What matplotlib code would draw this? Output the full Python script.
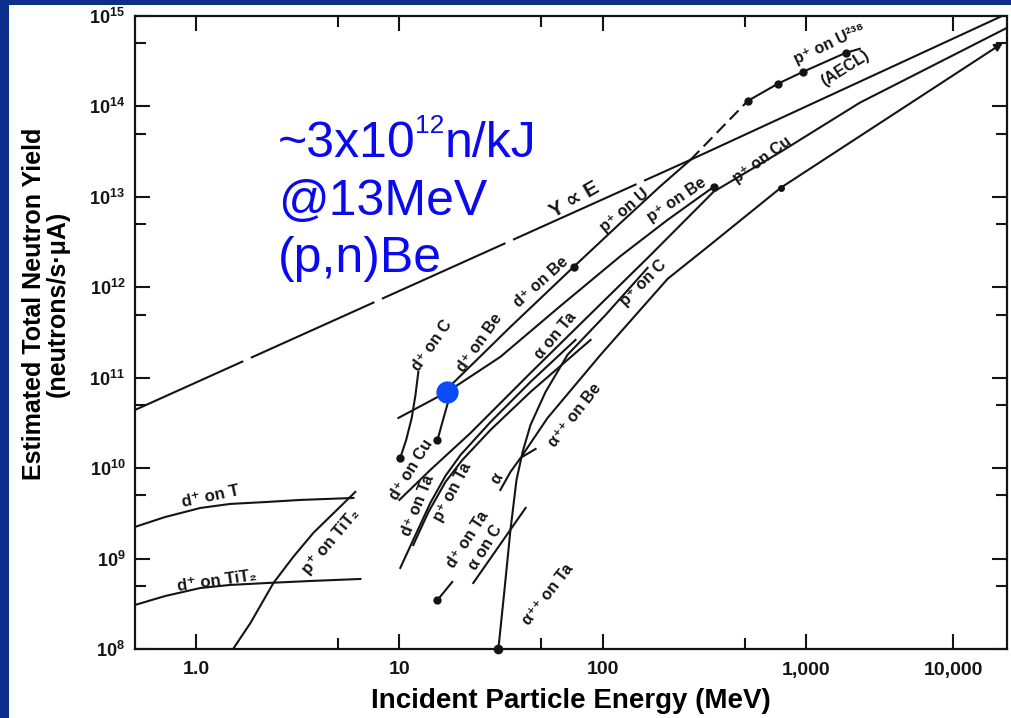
import numpy as np
import matplotlib.pyplot as plt
from matplotlib.patches import Rectangle

plt.rcParams['font.family'] = ['Liberation Sans', 'DejaVu Sans']
plt.rcParams['mathtext.fontset'] = 'custom'
plt.rcParams['mathtext.rm'] = 'Liberation Sans'
plt.rcParams['mathtext.it'] = 'Liberation Sans:italic'
plt.rcParams['mathtext.bf'] = 'Liberation Sans:bold'

# ---- data: energy in MeV, yield in neutrons/s-uA ----
yprop_e = [0.5, 271, 23300]                # Y ~ E reference line
yprop_y = [4.4e10, 2.57e13, 1.06e15]

dbe_e = [18.2, 35.2, 72.0]                 # d+ on Be
dbe_y = [8.54e10, 3.65e11, 1.68e12]

pu_e = [72.0, 122.7, 193, 271]             # p+ on U
pu_y = [1.68e12, 5.16e12, 1.32e13, 2.57e13]
pu_ext_e = [271, 518]                      # dashed link to AECL points
pu_ext_y = [2.57e13, 1.15e14]
aecl_e = [518, 728, 967, 1871, 2330]       # p+ on U238 (AECL)
aecl_y = [1.15e14, 1.78e14, 2.41e14, 3.92e14, 4.34e14]

pbe_e = [9.89, 17.2, 31.4, 62.1, 122.7, 209, 352]        # p+ on Be
pbe_y = [3.59e10, 6.97e10, 1.70e11, 6.23e11, 2.22e12, 5.57e12, 1.29e13]

pcu_e = [10.0, 14.2, 22.4, 44.2, 87.3, 166.6, 352, 753, 2330, 23300]   # p+ on Cu
pcu_y = [4.45e9, 9.55e9, 2.45e10, 1.13e11, 5.08e11, 2.11e12, 1.14e13,
         3.15e13, 1.10e14, 7.40e14]

pc_e = [40.4, 53.6, 97.7, 209, 329, 753, 21880]          # p+ on C
pc_y = [1.40e10, 3.59e10, 1.79e11, 1.24e12, 2.80e12, 1.26e13, 5.05e14]

ata_e = [30.7, 32.9, 35.2, 37.7, 40.4, 44.2, 52.4, 67.2, 103.5, 166.6]  # alpha on Ta
ata_y = [1.0e8, 4.50e8, 2.07e9, 7.40e9, 1.51e10, 3.01e10, 6.97e10,
         1.79e11, 4.95e11, 1.64e12]

abe_e = [31.4, 35.2, 39.5, 46.8]           # alpha++ on Be
abe_y = [5.74e9, 9.08e9, 1.30e10, 1.63e10]

ac_e = [23.1, 41.8]                        # alpha on C
ac_y = [5.37e8, 3.63e9]

dta_low_e = [15.4, 18.2]                   # d+ on Ta (low point)
dta_low_y = [3.48e8, 5.51e8]

dc_e = [10.1, 10.8, 11.5, 12.0, 12.4]      # d+ on C
dc_y = [1.30e10, 2.05e10, 3.59e10, 6.45e10, 1.16e11]

dcu_e = [15.4, 16.5, 17.6]                 # d+ on Cu
dcu_y = [2.05e10, 3.59e10, 5.98e10]

dta_e = [10.1, 12.0, 14.2, 16.85, 20.0, 28.1, 44.2, 73.6]   # d+ on Ta
dta_y = [7.87e8, 1.82e9, 4.12e9, 8.20e9, 1.40e10, 3.24e10, 9.0e10, 2.62e11]

pta_e = [11.7, 13.9, 16.85, 20.4, 28.1, 44.2, 87.3]          # p+ on Ta
pta_y = [1.41e9, 3.27e9, 7.03e9, 1.23e10, 2.65e10, 6.97e10, 2.62e11]

dt_e = [0.50, 0.703, 1.05, 1.47, 2.24, 3.25, 5.94]          # d+ on T
dt_y = [2.24e9, 2.88e9, 3.63e9, 4.02e9, 4.23e9, 4.45e9, 4.68e9]

dtit_e = [0.50, 0.703, 1.05, 1.47, 2.24, 3.64, 6.43]        # d+ on TiT2
dtit_y = [3.07e8, 3.85e8, 4.73e8, 5.11e8, 5.37e8, 5.65e8, 5.95e8]

ptit_e = [1.52, 1.65, 1.85, 2.40, 3.0, 3.77, 6.07]          # p+ on TiT2
ptit_y = [1.0e8, 1.32e8, 1.94e8, 5.37e8, 1.04e9, 1.92e9, 5.46e9]

marked_e = 17.2                            # highlighted (p,n)Be point
marked_y = 6.97e10

x_ticks = [1, 10, 100, 1000, 10000]
x_labels = ['1.0', '10', '100', '1,000', '10,000']
x_minor = [5, 50, 500]
y_exps = list(range(8, 16))

# ---- figure ----
W, H = 1012, 718
ink = '#141414'
blue = '#0a0af0'

fig = plt.figure(figsize=(W / 100, H / 100), dpi=100, facecolor='#0d2e8c')
fig.patches.append(Rectangle((9 / W, 0), 1 - 9 / W, 1 - 5 / H, transform=fig.transFigure,
                             facecolor='white', edgecolor='none', zorder=-1))
ax = fig.add_axes([135 / W, 1 - 649 / H, 872 / W, 633 / H])
ax.set_zorder(1)

# the original axis draws its last decade shorter than the others
squeeze = 147 / 203

def fwd(x):
    lx = np.log10(np.clip(np.asarray(x, float), 1e-12, None))
    return np.where(lx <= 3, lx, 3 + (lx - 3) * squeeze)

def inv(u):
    u = np.asarray(u, float)
    with np.errstate(over='ignore'):
        return np.where(u <= 3, 10.0 ** u, 10.0 ** (3 + (u - 3) / squeeze))

ax.set_xscale('function', functions=(fwd, inv))
ax.set_yscale('log')

lw = 1.5
# Y ~ E
ax.plot(yprop_e[:2], yprop_y[:2], color=ink, lw=lw, linestyle=(8, (65, 4)))
ax.plot(yprop_e[1:], yprop_y[1:], color=ink, lw=lw)
# p+ on U and the AECL points
ax.plot(pu_e, pu_y, color=ink, lw=lw)
ax.plot(pu_ext_e, pu_ext_y, color=ink, lw=lw, linestyle=(0, (6, 3)))
ax.plot(aecl_e, aecl_y, color=ink, lw=lw)
ax.plot(aecl_e[:4], aecl_y[:4], 'o', color=ink, ms=5)

for e, y in [(dbe_e, dbe_y), (pbe_e, pbe_y), (pcu_e, pcu_y), (ata_e, ata_y),
             (abe_e, abe_y), (ac_e, ac_y), (dta_low_e, dta_low_y), (dc_e, dc_y),
             (dcu_e, dcu_y), (dta_e, dta_y), (pta_e, pta_y), (dt_e, dt_y),
             (dtit_e, dtit_y), (ptit_e, ptit_y)]:
    ax.plot(e, y, color=ink, lw=lw)

# p+ on C ends in an arrow
ax.plot(pc_e[:-1], pc_y[:-1], color=ink, lw=lw)
ax.annotate('', xy=(pc_e[-1], pc_y[-1]), xytext=(pc_e[-2], pc_y[-2]),
            arrowprops=dict(arrowstyle='-|>', color=ink, lw=lw, shrinkA=0, shrinkB=0,
                            mutation_scale=12))
ax.plot(pc_e[5], pc_y[5], 'o', color=ink, ms=4)

# end dots
ax.plot([dbe_e[-1], pbe_e[-1], dc_e[0], dcu_e[0], dta_low_e[0]],
        [dbe_y[-1], pbe_y[-1], dc_y[0], dcu_y[0], dta_low_y[0]], 'o', color=ink, ms=5)
ax.plot(ata_e[0], ata_y[0], 'o', color=ink, ms=6, clip_on=False, zorder=5)

# highlighted point
ax.plot(marked_e, marked_y, 'o', color='#0a4bf5', ms=16, mec='none', zorder=6)

ax.set_xlim(0.5, 23300)
ax.set_ylim(1e8, 1e15)

ax.set_xticks(x_ticks, x_labels, fontsize=14, fontweight='bold')
ax.set_xticks(x_minor, [''] * len(x_minor), minor=True)
ax.set_yticks([10.0 ** k for k in y_exps],
              [r'$\mathbf{10^{%d}}$' % k for k in y_exps], fontsize=13)
ax.set_yticks([5 * 10.0 ** k for k in y_exps[:-1]], [''] * (len(y_exps) - 1), minor=True)
ax.tick_params(which='both', direction='in', top=True, right=True, width=1.5, colors=ink)
ax.tick_params(which='major', length=11)
ax.tick_params(which='minor', length=8)
ax.tick_params(axis='x', which='major', pad=9)
ax.tick_params(axis='y', which='major', pad=7)
for s in ax.spines.values():
    s.set_linewidth(1.6)
    s.set_color(ink)

ax.set_xlabel('Incident Particle Energy (MeV)', fontsize=20, fontweight='bold', labelpad=7)
fig.text(46 / W, 1 - 304 / H, 'Estimated Total Neutron Yield\n(neutrons/s\u00b7\u03bcA)',
         rotation=90, ha='center', va='center', multialignment='center',
         fontsize=18, fontweight='bold', linespacing=1.0)

# curve labels (pixel centre, rotation)
labels = [
    ('d\u207a on T', 211, 497, 12, 12),
    ('d\u207a on TiT\u2082', 217, 581, 8, 12),
    ('p\u207a on TiT\u2082', 331, 542, 50, 12),
    ('d\u207a on C', 432, 346, 55, 11.5),
    ('d\u207a on Be', 480, 343, 55, 11.5),
    ('d\u207a on Be', 541, 282, 42, 11.5),
    ('p\u207a on U', 625, 210, 40, 11.5),
    ('Y \u221d E', 575, 200, 30, 15),
    ('p\u207a on Be', 677, 200, 34, 11.5),
    ('p\u207a on Cu', 762, 160, 36, 11.5),
    ('p\u207a on U\u00b2\u00b3\u2078', 830, 44, 25, 11.5),
    ('(AECL)', 845, 68, 32, 11.5),
    ('p\u207a on C', 643, 283, 45, 11.5),
    ('\u03b1 on Ta', 556, 336, 50, 11.5),
    ('\u03b1\u207a\u207a on Be', 575, 415, 52, 11.5),
    ('d\u207a on Cu', 411, 470, 58, 11.5),
    ('d\u207a on Ta', 418, 505, 68, 11.5),
    ('p\u207a on Ta', 452, 492, 62, 11.5),
    ('d\u207a on Ta', 468, 540, 57, 11.5),
    ('\u03b1 on C', 485, 547, 58, 11.5),
    ('\u03b1\u207a\u207a on Ta', 548, 594, 52, 11.5),
    ('\u03b1', 497, 478, 60, 11.5),
]
for txt, x, y, rot, size in labels:
    fig.text(x / W, 1 - y / H, txt, rotation=rot, rotation_mode='anchor',
             ha='center', va='center', fontsize=size, fontweight='bold', color=ink,
             zorder=3)

# blue annotation, with a small raised "12"
r = fig.canvas.get_renderer()
t = fig.text(278 / W, 1 - 157 / H, '~3x10', fontsize=36, color=blue, va='baseline', zorder=3)
x_end = t.get_window_extent(r).x1
t = fig.text((x_end - 1) / W, 1 - 133 / H, '12', fontsize=19, color=blue, va='baseline',
             zorder=3)
x_end = t.get_window_extent(r).x1
fig.text((x_end + 1) / W, 1 - 157 / H, 'n/kJ', fontsize=36, color=blue, va='baseline', zorder=3)
fig.text(278 / W, 1 - 215 / H, '@13MeV', fontsize=36, color=blue, va='baseline', zorder=3)
fig.text(278 / W, 1 - 272 / H, '(p,n)Be', fontsize=36, color=blue, va='baseline', zorder=3)

fig.savefig('out.png', dpi=100, facecolor=fig.get_facecolor())
